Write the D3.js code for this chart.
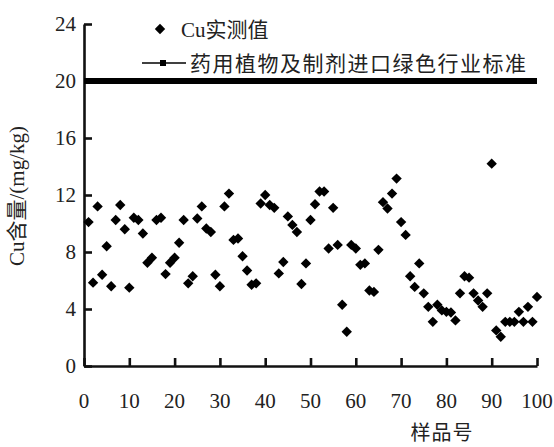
<!DOCTYPE html>
<html>
<head>
<meta charset="utf-8">
<script src="https://cdn.jsdelivr.net/npm/d3@7/dist/d3.min.js"></script>
<style>
  html, body { margin: 0; padding: 0; background: #fff; }
  svg { display: block; }
  text { font-family: "Liberation Serif", "Noto Sans CJK SC", serif; fill: #222; }
</style>
</head>
<body>
<svg id="chart" width="554" height="447"></svg>
<script>
// Sample numbers and measured Cu content (mg/kg)
const samples = d3.range(1, 101);
const cuValues = [
  10.1, 5.85, 11.2, 6.4, 8.4, 5.6, 10.25, 11.3, 9.6, 5.5,
  10.4, 10.25, 9.3, 7.25, 7.6, 10.25, 10.4, 6.45, 7.25, 7.6,
  8.65, 10.25, 5.8, 6.3, 10.35, 11.2, 9.65, 9.4, 6.4, 5.6,
  11.2, 12.1, 8.85, 8.95, 7.7, 6.7, 5.7, 5.8, 11.4, 12.0,
  11.3, 11.1, 6.5, 7.3, 10.5, 9.9, 9.4, 5.75, 7.2, 10.25,
  11.35, 12.25, 12.25, 8.25, 11.1, 8.5, 4.3, 2.4, 8.5, 8.25,
  7.1, 7.2, 5.3, 5.2, 8.15, 11.5, 11.05, 12.1, 13.15, 10.1,
  9.2, 6.3, 5.55, 7.2, 5.1, 4.15, 3.1, 4.3, 3.9, 3.8,
  3.75, 3.2, 5.1, 6.3, 6.2, 5.1, 4.6, 4.15, 5.1, 14.2,
  2.5, 2.05, 3.1, 3.1, 3.1, 3.8, 3.1, 4.15, 3.1, 4.85
];
// Green industry standard limit for Cu in medicinal plants and preparations
const standardLimit = 20;
const xTicks = [0, 10, 20, 30, 40, 50, 60, 70, 80, 90, 100];
const yTicks = [0, 4, 8, 12, 16, 20, 24];
const legendLabels = ["Cu实测值", "药用植物及制剂进口绿色行业标准"];
const xTitle = "样品号";
const yTitle = "Cu含量/(mg/kg)";

const svg = d3.select("#chart");
const plotLeft = 84, plotRight = 537, plotTop = 24, plotBottom = 366;

const x = d3.scaleLinear().domain([0, 100]).range([plotLeft, plotRight]);
const y = d3.scaleLinear().domain([0, 24]).range([plotBottom, plotTop]);

// Axes: ticks point inward, labels drawn separately
const xAxis = svg.append("g").attr("transform", `translate(0,${plotBottom})`)
  .call(d3.axisBottom(x).tickValues(xTicks).tickSizeInner(-8).tickSizeOuter(0).tickFormat(""));
const yAxis = svg.append("g").attr("transform", `translate(${plotLeft},0)`)
  .call(d3.axisLeft(y).tickValues(yTicks).tickSizeInner(-8).tickSizeOuter(0).tickFormat(""));
[xAxis, yAxis].forEach(g => {
  g.selectAll("path.domain").attr("stroke", "#111").attr("stroke-width", 2.6);
  g.selectAll(".tick line").attr("stroke", "#111").attr("stroke-width", 2.6);
});

// Tick labels
svg.append("g").selectAll("text").data(xTicks).join("text")
  .attr("x", d => x(d)).attr("y", 408)
  .attr("text-anchor", "middle").attr("font-size", 21)
  .text(d => d);
svg.append("g").selectAll("text").data(yTicks).join("text")
  .attr("x", plotLeft - 8).attr("y", d => y(d) + 7)
  .attr("text-anchor", "end").attr("font-size", 21)
  .text(d => d);

// Standard limit line
svg.append("line")
  .attr("x1", x(0)).attr("x2", x(100))
  .attr("y1", y(standardLimit)).attr("y2", y(standardLimit))
  .attr("stroke", "#000").attr("stroke-width", 6);

// Measured values as diamonds
const diamond = d3.symbol().type(d3.symbolSquare).size(54);
svg.append("g").selectAll("path").data(samples).join("path")
  .attr("d", diamond)
  .attr("transform", (d, i) => `translate(${x(d)},${y(cuValues[i])}) rotate(45)`)
  .attr("fill", "#000");

// Legend
const lg = svg.append("g");
lg.append("path").attr("d", diamond)
  .attr("transform", "translate(160,29) rotate(45)").attr("fill", "#000");
lg.append("text").attr("x", 181).attr("y", 37).attr("font-size", 21).text(legendLabels[0]);
lg.append("line").attr("x1", 142).attr("x2", 186).attr("y1", 63).attr("y2", 63)
  .attr("stroke", "#000").attr("stroke-width", 1.3);
lg.append("rect").attr("x", 160).attr("y", 60).attr("width", 6).attr("height", 6).attr("fill", "#000");
lg.append("text").attr("x", 190).attr("y", 71).attr("font-size", 21)
  .attr("letter-spacing", 1.5).text(legendLabels[1]);

// Axis titles
svg.append("text").attr("x", 442).attr("y", 440).attr("text-anchor", "middle")
  .attr("font-size", 20).attr("letter-spacing", 1).text(xTitle);
svg.append("text").attr("transform", "translate(24,196) rotate(-90)")
  .attr("text-anchor", "middle").attr("font-size", 21).text(yTitle);
</script>
</body>
</html>
